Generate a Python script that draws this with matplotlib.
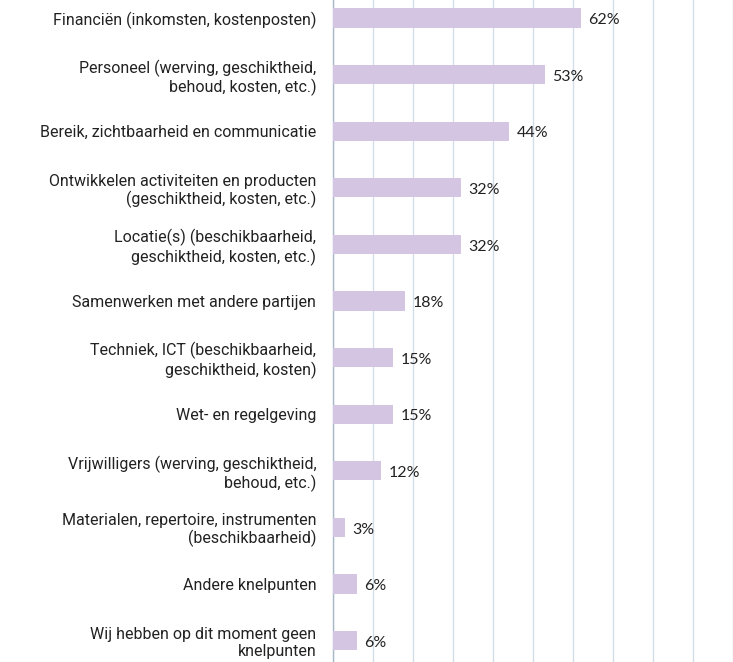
import matplotlib
matplotlib.use("Agg")
from matplotlib import pyplot as plt

# data
categories = [
    "Financiën (inkomsten, kostenposten)",
    "Personeel (werving, geschiktheid,\nbehoud, kosten, etc.)",
    "Bereik, zichtbaarheid en communicatie",
    "Ontwikkelen activiteiten en producten\n(geschiktheid, kosten, etc.)",
    "Locatie(s) (beschikbaarheid,\ngeschiktheid, kosten, etc.)",
    "Samenwerken met andere partijen",
    "Techniek, ICT (beschikbaarheid,\ngeschiktheid, kosten)",
    "Wet- en regelgeving",
    "Vrijwilligers (werving, geschiktheid,\nbehoud, etc.)",
    "Materialen, repertoire, instrumenten\n(beschikbaarheid)",
    "Andere knelpunten",
    "Wij hebben op dit moment geen\nknelpunten",
]
values = [62, 53, 44, 32, 32, 18, 15, 15, 12, 3, 6, 6]

BAR_COLOR = "#d4c5e2"
GRID_COLOR = "#d3dde7"

fig = plt.figure(figsize=(7.33, 6.62), dpi=100)
ax = fig.add_axes([333 / 733, 0, 400 / 733, 1])

ypos = list(range(len(values)))
ax.barh(ypos, values, height=0.34, color=BAR_COLOR, zorder=3)

for y, v in zip(ypos, values):
    ax.text(v + 1.9, y + 0.04, f"{v}%", va="center", ha="left", fontsize=11.5,
            family="Lato", color="#222222", zorder=4)

ax.set_xlim(0, 100)
ax.set_ylim(11.38, -0.318)
ax.set_xticks(range(0, 101, 10))
ax.set_xticklabels([])
ax.tick_params(axis="x", length=0)
ax.grid(axis="x", color=GRID_COLOR, linewidth=1.0, zorder=0)

ax.set_yticks(ypos)
ax.set_yticklabels(categories, fontsize=11.5, family="Roboto", color="#222222",
                   linespacing=1.15)
ax.tick_params(axis="y", length=0, pad=12)

for side in ["top", "right", "bottom"]:
    ax.spines[side].set_visible(False)
ax.spines["left"].set_color("#a9b8c8")
ax.spines["left"].set_linewidth(1.0)

fig.savefig("out.png", dpi=100)
